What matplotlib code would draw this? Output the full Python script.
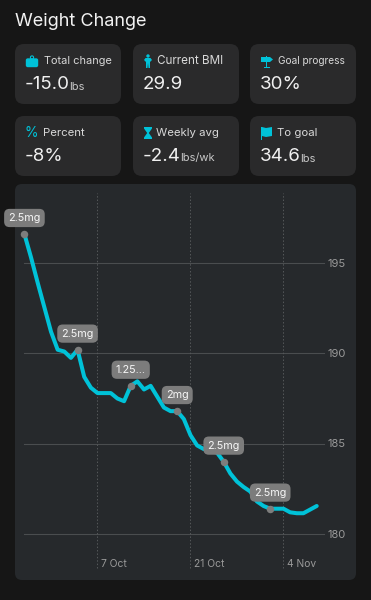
import pandas as pd
import matplotlib
matplotlib.use("Agg")
import matplotlib.pyplot as plt
import matplotlib.dates as mdates
from matplotlib.patches import FancyBboxPatch, Polygon, Circle, Rectangle

plt.rcParams['font.family'] = ['Inter', 'DejaVu Sans']

# Chart data
start_date = "2024-09-26"
weights = [196.6, 195.3, 193.9, 192.55, 191.2, 190.2, 190.1, 189.75, 190.2, 188.7,
           188.1, 187.8, 187.8, 187.8, 187.5, 187.35, 188.2, 188.45, 188.0, 188.2,
           187.6, 187.0, 186.8, 186.8, 186.36, 185.47, 184.9, 184.7, 184.6, 184.5,
           184.0, 183.35, 182.9, 182.6, 182.35, 181.8, 181.55, 181.4, 181.4, 181.4,
           181.2, 181.15, 181.15, 181.35, 181.55]
dose_dates = ["2024-09-26", "2024-10-04", "2024-10-12", "2024-10-19", "2024-10-26", "2024-11-02"]
dose_labels = ["2.5mg", "2.5mg", "1.25...", "2mg", "2.5mg", "2.5mg"]
y_ticks = [180, 185, 190, 195]
x_tick_dates = ["2024-10-07", "2024-10-21", "2024-11-04"]
x_tick_labels = ["7 Oct", "21 Oct", "4 Nov"]

# Summary cards
card_titles = ["Total change", "Current BMI", "Goal progress", "Percent", "Weekly avg", "To goal"]
card_values = ["-15.0", "29.9", "30%", "-8%", "-2.4", "34.6"]
card_units = ["lbs", "", "", "", "lbs/wk", "lbs"]

BG = "#161616"
CARD = "#2a2a2b"
PANEL = "#26292c"
TEAL = "#00c2d8"
W, H = 371, 600

fig = plt.figure(figsize=(W / 100, H / 100), dpi=100, facecolor=BG)

# Page layer in pixel coords
page = fig.add_axes([0, 0, 1, 1])
page.set_xlim(0, W)
page.set_ylim(H, 0)
page.axis("off")

page.text(15, 21, "Weight Change", color="#f2f2f2", fontsize=13, va="center", ha="left")

card_x = [15, 133, 250]
card_y = [44, 116]
title_x = [44, 157, 278, 42.5, 156, 277]
title_size = [7.9, 8.4, 7.3, 8.2, 8.2, 8.2]


def draw_icon(i, x, y):
    if i == 0:  # weight
        page.add_patch(Circle((x + 6, y - 3.5), 1.6, fc="none", ec=TEAL, lw=0.8))
        page.add_patch(FancyBboxPatch((x + 1, y - 1.5), 10, 6.5, boxstyle="round,pad=1.2,rounding_size=2", fc=TEAL, ec="none"))
    elif i == 1:  # person
        page.add_patch(Circle((x + 4, y - 5), 1.7, fc=TEAL))
        page.add_patch(Polygon([(x, y - 1), (x + 1.5, y - 3), (x + 6.5, y - 3), (x + 8, y - 1), (x + 7, y),
                                (x + 6, y + 1), (x + 6, y + 7), (x + 4.5, y + 7), (x + 4, y + 2),
                                (x + 3.5, y + 7), (x + 2, y + 7), (x + 2, y + 1), (x + 1, y)], fc=TEAL))
    elif i == 2:  # signpost
        page.add_patch(Polygon([(x, y - 4), (x + 9, y - 4), (x + 12, y - 1.5), (x + 9, y + 1), (x, y + 1)], fc=TEAL))
        page.add_patch(Rectangle((x + 5, y - 5), 1.4, 12, fc=TEAL))
        page.add_patch(Rectangle((x + 3, y + 6), 5.5, 1, fc=TEAL))
    elif i == 3:  # percent
        page.text(x + 6, y, "%", color=TEAL, fontsize=10, ha="center", va="center")
    elif i == 4:  # hourglass
        page.add_patch(Polygon([(x, y - 6), (x + 8, y - 6), (x + 8, y - 4.5), (x + 4.8, y), (x + 8, y + 4.5), (x + 8, y + 6),
                                (x, y + 6), (x, y + 4.5), (x + 3.2, y), (x, y - 4.5)], fc=TEAL))
    else:  # flag
        page.add_patch(Rectangle((x, y - 6), 1, 13, fc=TEAL))
        page.add_patch(Polygon([(x + 1, y - 6), (x + 5, y - 5), (x + 11, y - 6), (x + 11, y + 3), (x + 5, y + 4), (x + 1, y + 3)], fc=TEAL))


icon_x = [26, 144, 261, 25, 144, 261]
for i in range(6):
    cx = card_x[i % 3]
    cy = card_y[i // 3]
    page.add_patch(FancyBboxPatch((cx + 8, cy + 8), 90, 44, boxstyle="round,pad=8,rounding_size=9",
                                  fc=CARD, ec="none"))
    draw_icon(i, icon_x[i], cy + 17)
    page.text(title_x[i], cy + 17.5, card_titles[i], color="#d8d8d8", fontsize=title_size[i], ha="left", va="center")
    t = page.text(cx + 10, cy + 40.5, card_values[i], color="#f0f0f0", fontsize=13.5, ha="left", va="center")
    if card_units[i]:
        fig.canvas.draw()
        bb = t.get_window_extent()
        page.text(bb.x1 - 1, cy + 42.5, card_units[i], color="#c8c8c8", fontsize=8, ha="left", va="center")

# Chart panel
page.add_patch(FancyBboxPatch((23, 192), 325, 380, boxstyle="round,pad=8,rounding_size=7", fc=PANEL, ec="none"))

ax = fig.add_axes([0, 0, 1, 1])
ax.patch.set_alpha(0)
for s in ax.spines.values():
    s.set_visible(False)
ax.tick_params(left=False, bottom=False, labelleft=False, labelbottom=False)

dates = pd.date_range(start_date, periods=len(weights), freq="D")
series = pd.Series(weights, index=dates)

# Scale so that 7 Oct sits at x=97.5, 4 Nov at 283.5, 195 at y=263, 180 at y=534
px_per_day = (283.5 - 97.5) / 28
d0 = mdates.date2num(pd.Timestamp(x_tick_dates[0]))
ax.set_xlim(d0 - 97.5 / px_per_day, d0 + (W - 97.5) / px_per_day)
px_per_lb = (534 - 263) / 15
ax.set_ylim(195 - (H - 263) / px_per_lb, 195 + 263 / px_per_lb)

xmin = mdates.date2num(dates[0])
xmax = d0 + (323.5 - 97.5) / px_per_day
for v in y_ticks:
    ax.plot([xmin, xmax], [v, v], color="#4a4d4f", lw=0.8, zorder=1)
    ax.annotate(str(v), (xmax, v), xytext=(3, -0.6), textcoords="offset points", color="#9a9a9a",
                fontsize=8, va="center", ha="left")

top = 195 + (263 - 193) / px_per_lb
bottom = 195 - (568 - 263) / px_per_lb
for d, lab in zip(x_tick_dates, x_tick_labels):
    xd = pd.Timestamp(d)
    ax.plot([xd, xd], [bottom, top], color="#55585a", lw=0.7, ls=(0, (1.5, 2)), zorder=1)
    ax.annotate(lab, (xd, bottom), xytext=(2.8, 3), textcoords="offset points", color="#9a9a9a",
                fontsize=7.4, va="center", ha="left")

ax.plot(dates, weights, color=TEAL, lw=2.9, solid_capstyle="round", solid_joinstyle="round", zorder=3)

for d, lab in zip(dose_dates, dose_labels):
    xd = pd.Timestamp(d)
    ax.plot([xd], [series[xd]], "o", color="#7d7d7d", ms=5.4, mec="none", zorder=4)
    ax.annotate(lab, (xd, series[xd]), xytext=(0, 11.6), textcoords="offset points", color="#f6f6f6",
                fontsize=7.8, ha="center", va="center", zorder=5,
                bbox=dict(boxstyle="round,pad=0.38,rounding_size=0.5", fc="#7c7c7c", ec="none"))

fig.savefig("out.png", dpi=100, facecolor=BG)
